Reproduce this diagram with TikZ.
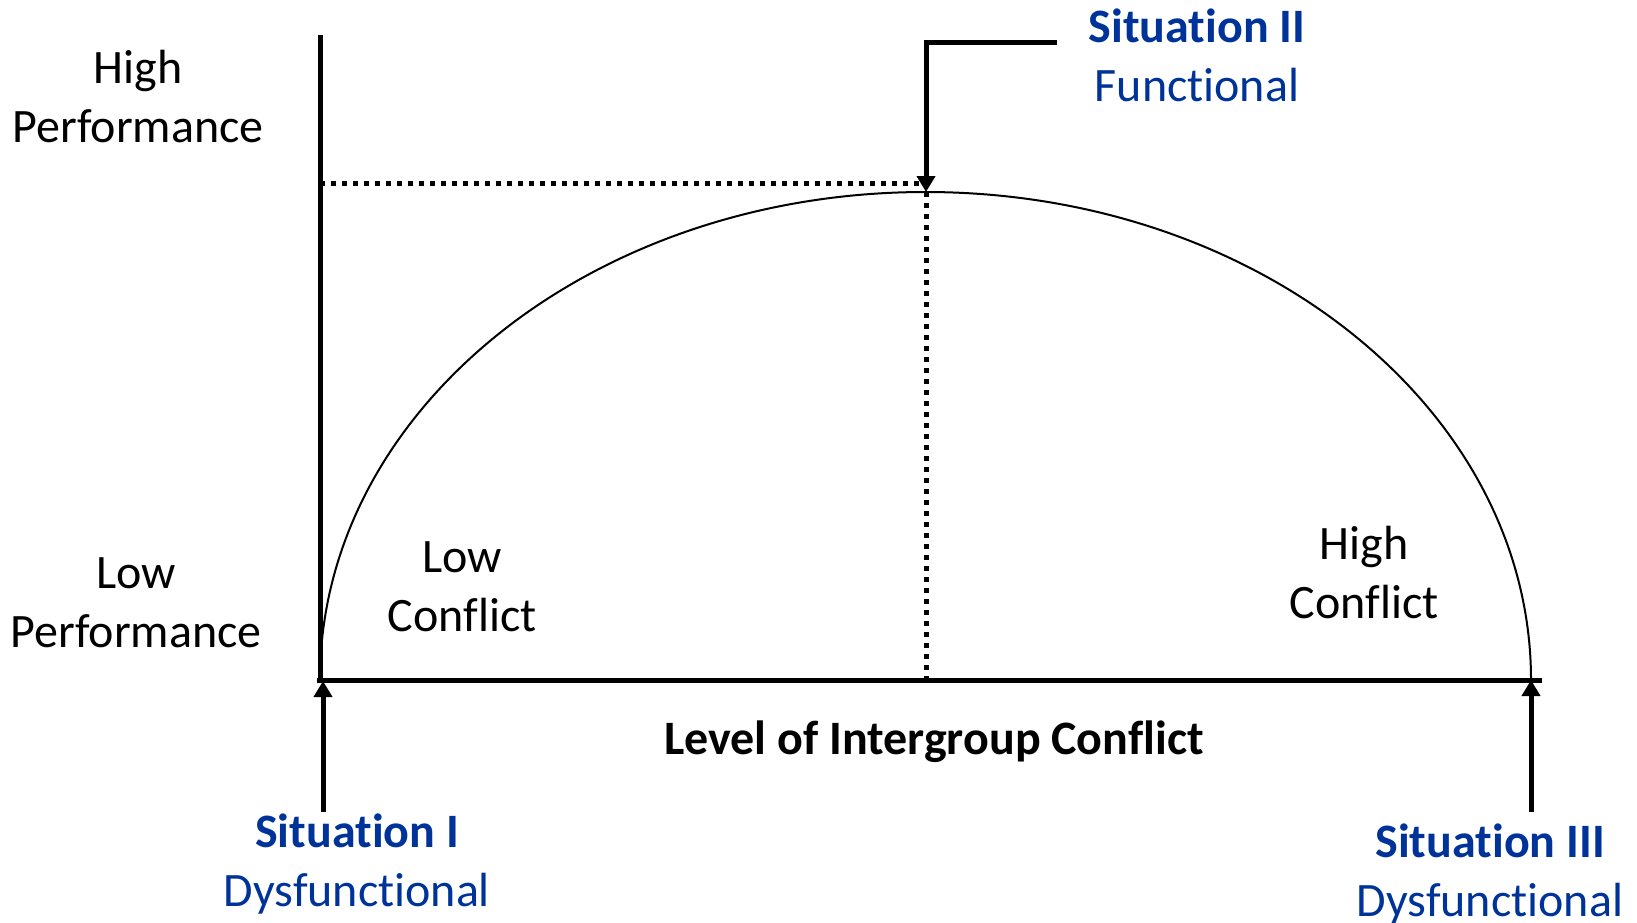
\documentclass[tikz,border=0pt]{standalone}
\usepackage{fontspec}
\setmainfont{Carlito}[Ligatures=NoCommon]
\usetikzlibrary{arrows.meta}
\definecolor{sitblue}{RGB}{0,51,153}
\begin{document}
\begin{tikzpicture}[x=1pt,y=-1pt,
  lbl/.style={font=\fontsize{48}{59}\selectfont, align=center, inner sep=0pt},
  sit/.style={lbl, text=sitblue},
  axis/.style={line width=5pt},
  dotline/.style={line width=5pt, dash pattern=on 5pt off 6pt},
  pointer/.style={line width=5pt, -{Triangle[width=18pt,length=16pt]}}]
\useasboundingbox (0,0) rectangle (1637,922);
% coordinates
\coordinate (ytop) at (320,35);
\coordinate (origin) at (320,680);
\coordinate (xend) at (1542,680);
\coordinate (peak) at (926,192);
\coordinate (peakbase) at (926,680);
\coordinate (hdot) at (320,183);
\coordinate (hdotend) at (926,183);
\coordinate (rightend) at (1531,680);
% curve (semi-ellipse)
\draw[line width=2pt] (origin) arc[start angle=180, end angle=360, x radius=605.5, y radius=488];
% dotted guides
\draw[dotline] (hdot) -- (hdotend);
\draw[dotline] (peak) -- (peakbase);
% axes
\draw[axis] (ytop) -- (origin |- 0,682);
\draw[axis] (317,680) -- (xend);
% labels
\node[lbl] (hp) at (138,97) {High\\Performance};
\node[lbl] (lp) at (136,603) {Low\\Performance};
\node[lbl] (lc) at (462,587) {Low\\Conflict};
\node[lbl] (hc) at (1364,572) {High\\Conflict};
\node[lbl, font=\fontsize{48}{59}\selectfont\bfseries] (xlab) at (934,742) {Level of Intergroup Conflict};
\node[sit] (s2) at (1197,55) {\textbf{Situation II}\\Functional};
\node[sit] (s1) at (357,864) {\textbf{Situation I}\\Dysfunctional};
\node[sit] (s3) at (1490,874) {\textbf{Situation III}\\Dysfunctional};
% pointers
\coordinate (s2a) at (1057,42);
\coordinate (s2b) at (926,42);
\coordinate (s1a) at (323,812);
\coordinate (s3a) at (1531,812);
\draw[pointer] (s2a) -- (s2b) -- (peak);
\draw[pointer] (s1a) -- (323,681);
\draw[pointer] (s3a) -- (rightend);
\end{tikzpicture}
\end{document}
